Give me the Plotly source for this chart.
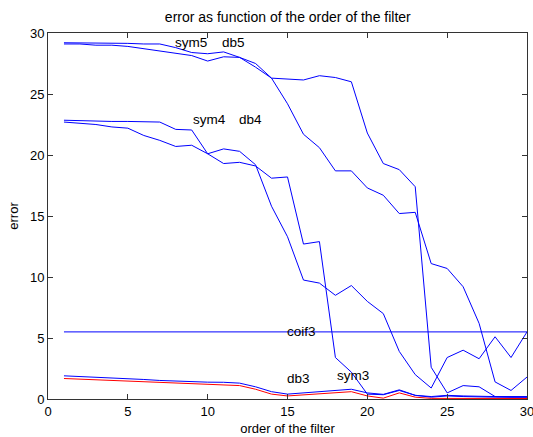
import plotly.graph_objects as go

orders = list(range(1, 31))

sym5 = [29.2, 29.2, 29.2, 29.2, 29.15, 29.1, 29.1, 28.8, 28.4, 28.3, 28.45, 28.0, 27.5, 26.3,
        26.2, 26.15, 26.5, 26.35, 26.0, 21.8, 19.3, 18.8, 17.4, 2.6, 0.5, 1.1, 1.0, 0.2, 0.15, 0.15]
db5 = [29.1, 29.1, 29.0, 29.0, 28.9, 28.7, 28.5, 28.3, 28.15, 27.7, 28.05, 28.0, 27.2, 26.3,
       24.2, 21.7, 20.6, 18.7, 18.7, 17.3, 16.7, 15.2, 15.3, 11.1, 10.7, 9.2, 6.2, 1.4, 0.7, 1.8]
sym4 = [22.85, 22.8, 22.8, 22.75, 22.75, 22.7, 22.7, 22.1, 22.05, 20.1, 20.5, 20.3, 19.2, 15.8,
        13.3, 9.75, 9.5, 8.5, 9.3, 8.0, 7.0, 3.9, 2.0, 0.9, 3.4, 4.0, 3.3, 5.1, 3.4, 5.5]
db4 = [22.7, 22.6, 22.5, 22.3, 22.2, 21.6, 21.2, 20.7, 20.8, 20.1, 19.3, 19.4, 19.1, 18.1,
       18.2, 12.7, 12.9, 3.4, 2.2, 0.4, 0.35, 0.7, 0.3, 0.15, 0.25, 0.2, 0.15, 0.15, 0.15, 0.15]
coif3 = [5.5] * 30
db3 = [1.9, 1.85, 1.8, 1.72, 1.68, 1.6, 1.52, 1.46, 1.42, 1.38, 1.37, 1.3, 1.0, 0.6,
       0.4, 0.5, 0.62, 0.75, 0.8, 0.5, 0.38, 0.75, 0.3, 0.2, 0.3, 0.25, 0.2, 0.2, 0.2, 0.2]
sym3 = [1.68, 1.63, 1.58, 1.5, 1.45, 1.38, 1.33, 1.3, 1.25, 1.17, 1.17, 1.1, 0.8, 0.4,
        0.25, 0.35, 0.45, 0.55, 0.6, 0.25, 0.07, 0.5, 0.15, 0.05, 0.05, 0.04, 0.04, 0.04, 0.04, 0.04]

labels = ["sym5", "db5", "sym4", "db4", "coif3", "db3", "sym3"]
label_x = [7.8, 10.8, 8.95, 11.85, 14.85, 14.85, 17.95]
label_y = [29.2, 29.2, 22.9, 22.9, 5.5, 1.7, 1.9]

tick_vals = [0, 5, 10, 15, 20, 25, 30]

series = [(sym5, "blue"), (db5, "blue"), (sym4, "blue"), (db4, "blue"),
          (coif3, "blue"), (db3, "blue"), (sym3, "red")]

fig = go.Figure()
for vals, col in series:
    fig.add_trace(go.Scatter(x=orders, y=vals, mode="lines",
                             line=dict(color=col, width=1), showlegend=False))

for t, lx, ly in zip(labels, label_x, label_y):
    fig.add_annotation(x=lx, y=ly, text=t, showarrow=False, xanchor="left",
                       yanchor="middle", font=dict(size=13.5, color="black"))

axis_common = dict(range=[0, 30], showline=True, linecolor="#333", linewidth=1,
                   mirror="allticks", ticks="inside", ticklen=5, tickcolor="#333",
                   showgrid=False, zeroline=False, tickfont=dict(size=13, color="black"),
                   ticklabeloverflow="allow", automargin=False)

fig.update_xaxes(tickvals=tick_vals, title=dict(text="order of the filter",
                 font=dict(size=13, color="black"), standoff=6), **axis_common)
fig.update_yaxes(tickvals=tick_vals, title=dict(text="error",
                 font=dict(size=13, color="black"), standoff=8), **axis_common)

fig.update_layout(
    width=533, height=437,
    margin=dict(l=48, r=6, t=33, b=38),
    paper_bgcolor="white", plot_bgcolor="white",
    font=dict(family="Liberation Sans, Arial, sans-serif", size=13, color="black"),
    title=dict(text="error as function of the order of the filter", x=0.54, xanchor="center",
               y=0.973, yanchor="top", font=dict(size=14, color="black")),
)

fig.write_html("out.html")
